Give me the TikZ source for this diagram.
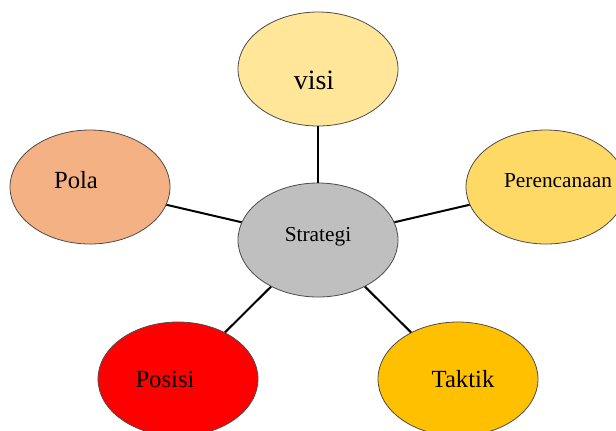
\documentclass[tikz,border=0pt]{standalone}
\usepackage{fontspec}
\setmainfont{Liberation Serif}
\usetikzlibrary{shapes.geometric}
\definecolor{visicol}{HTML}{FFE699}
\definecolor{polacol}{HTML}{F4B183}
\definecolor{rencanacol}{HTML}{FFD966}
\definecolor{stratcol}{HTML}{BFBFBF}
\definecolor{posisicol}{HTML}{FF0000}
\definecolor{taktikcol}{HTML}{FFC000}

\begin{document}
\begin{tikzpicture}[x=0.75pt,y=-0.75pt,
bubble/.style={ellipse, draw=black!70, line width=0.6pt, minimum width=120pt, minimum height=85.5pt, inner sep=0pt},
bigtext/.style={font=\fontsize{18.5}{22}\selectfont},
smalltext/.style={font=\fontsize{16}{19}\selectfont},
spoke/.style={line width=1.5pt},
]
\clip (0,0) rectangle (616,430);
\node[bubble, fill=stratcol] (strategi) at (318,240) {};
\node[bubble, fill=visicol] (visi) at (318,69) {};
\node[bubble, fill=polacol] (pola) at (90,187) {};
\node[bubble, fill=rencanacol] (rencana) at (546,187) {};
\node[bubble, fill=posisicol] (posisi) at (178,379) {};
\node[bubble, fill=taktikcol] (taktik) at (458,379) {};
%%%
%% Texts
\node[smalltext] (strategiT) at (318,237) {Strategi};
\node[font=\fontsize{21}{25}\selectfont] (visiT) at (314,80) {visi};
\node[bigtext] (polaT) at (76,180) {Pola};
\node[smalltext] (rencanaT) at (558,181) {Perencanaan};
\node[bigtext] (posisiT) at (165,379) {Posisi};
\node[bigtext] (taktikT) at (463,379) {Taktik};
%%%
%% Lines
\draw[spoke] (strategi) -- (visi);
\draw[spoke] (strategi) -- (pola);
\draw[spoke] (strategi) -- (rencana);
\draw[spoke] (strategi) -- (posisi);
\draw[spoke] (strategi) -- (taktik);
\end{tikzpicture}
\end{document}
